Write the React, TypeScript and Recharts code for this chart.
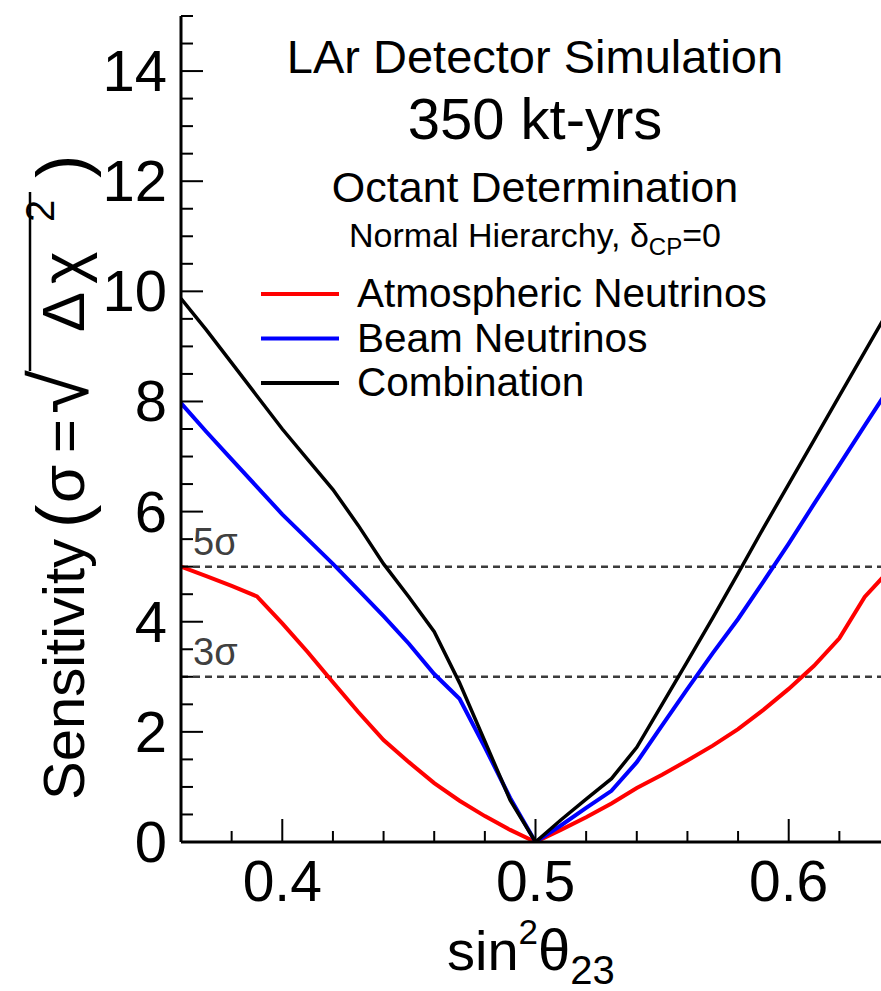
import React from 'react';
import { LineChart, Line, XAxis, YAxis, ReferenceLine, Customized } from 'recharts';

// sin^2(theta_23) grid and the three sensitivity curves
const sin2Theta23 = [
  0.36, 0.37, 0.38, 0.39, 0.4, 0.41, 0.42, 0.43, 0.44, 0.45, 0.46, 0.47, 0.48, 0.49, 0.5,
  0.51, 0.52, 0.53, 0.54, 0.55, 0.56, 0.57, 0.58, 0.59, 0.6, 0.61, 0.62, 0.63, 0.64,
];
const atmospheric = [
  5.0, 4.83, 4.65, 4.46, 3.97, 3.45, 2.9, 2.36, 1.85, 1.45, 1.07, 0.75, 0.47, 0.22, 0,
  0.22, 0.45, 0.7, 0.98, 1.22, 1.48, 1.75, 2.05, 2.4, 2.78, 3.2, 3.7, 4.45, 4.95,
];
const beam = [
  7.97, 7.45, 6.95, 6.45, 5.95, 5.5, 5.05, 4.58, 4.1, 3.6, 3.05, 2.6, 1.72, 0.8, 0,
  0.3, 0.62, 0.93, 1.45, 2.12, 2.78, 3.43, 4.05, 4.73, 5.42, 6.14, 6.85, 7.56, 8.27,
];
const combination = [
  9.87, 9.3, 8.7, 8.1, 7.5, 6.95, 6.4, 5.75, 5.05, 4.45, 3.82, 2.89, 1.83, 0.76, 0,
  0.4, 0.78, 1.15, 1.72, 2.5, 3.28, 4.07, 4.88, 5.7, 6.5, 7.3, 8.1, 8.9, 9.7,
];

// Axis ticks
const xTicks = [0.36, 0.38, 0.4, 0.42, 0.44, 0.46, 0.48, 0.5, 0.52, 0.54, 0.56, 0.58, 0.6, 0.62, 0.64];
const xMajorTicks = [0.4, 0.5, 0.6];
const xTickLabels = ['0.4', '0.5', '0.6'];
const yTicks = [
  0, 0.5, 1, 1.5, 2, 2.5, 3, 3.5, 4, 4.5, 5, 5.5, 6, 6.5, 7, 7.5, 8, 8.5, 9, 9.5, 10,
  10.5, 11, 11.5, 12, 12.5, 13, 13.5, 14, 14.5, 15,
];
const yMajorTicks = [0, 2, 4, 6, 8, 10, 12, 14];
const yTickLabels = ['0', '2', '4', '6', '8', '10', '12', '14'];

// Significance levels
const sigmaLevels = [5, 3];
const sigmaLabels = ['5σ', '3σ'];

// Legend
const seriesKeys = ['atm', 'beam', 'comb'];
const seriesNames = ['Atmospheric Neutrinos', 'Beam Neutrinos', 'Combination'];
const seriesColors = ['#ff0000', '#0000ff', '#000000'];
const seriesWidths = [4, 4, 3.5];

const rows = sin2Theta23.map((x, i) => ({
  x,
  atm: atmospheric[i],
  beam: beam[i],
  comb: combination[i],
}));

const FONT = '"Liberation Sans", Arial, Helvetica, sans-serif';

const findIndex = (list: number[], v: number) => list.findIndex((m) => Math.abs(m - v) < 1e-9);

const BottomTick = (props: any) => {
  const { x, y, payload } = props;
  const idx = findIndex(xMajorTicks, payload.value);
  const major = idx >= 0;
  return (
    <g>
      <line x1={x} x2={x} y1={y} y2={y - (major ? 23 : 11)} stroke="#000" strokeWidth={2} />
      {major && (
        <text x={x} y={y + 59} textAnchor="middle" fontSize={57} fontFamily={FONT} fill="#000">
          {xTickLabels[idx]}
        </text>
      )}
    </g>
  );
};

const TopTick = (props: any) => {
  const { x, y, payload } = props;
  const major = findIndex(xMajorTicks, payload.value) >= 0;
  return <line x1={x} x2={x} y1={y} y2={y + (major ? 18 : 13)} stroke="#000" strokeWidth={2} />;
};

const LeftTick = (props: any) => {
  const { x, y, payload } = props;
  const idx = findIndex(yMajorTicks, payload.value);
  const major = idx >= 0;
  return (
    <g>
      <line x1={x} x2={x + (major ? 22 : 12)} y1={y} y2={y} stroke="#000" strokeWidth={2} />
      {major && (
        <text x={x - 14} y={y + 20} textAnchor="end" fontSize={58} fontFamily={FONT} fill="#000">
          {yTickLabels[idx]}
        </text>
      )}
    </g>
  );
};

const RightTick = (props: any) => {
  const { x, y, payload } = props;
  const major = findIndex(yMajorTicks, payload.value) >= 0;
  return <line x1={x} x2={x - (major ? 22 : 12)} y1={y} y2={y} stroke="#000" strokeWidth={2} />;
};

const Annotations = () => (
  <g fontFamily={FONT} fill="#000">
    <text x={535} y={73} textAnchor="middle" fontSize={47}>LAr Detector Simulation</text>
    <text x={535} y={139} textAnchor="middle" fontSize={58}>350 kt-yrs</text>
    <text x={535} y={202} textAnchor="middle" fontSize={43}>Octant Determination</text>
    <text x={535} y={247} textAnchor="middle" fontSize={34}>
      Normal Hierarchy, δ<tspan fontSize={24} dy={8}>CP</tspan>
      <tspan dy={-8}>=0</tspan>
    </text>

    {seriesNames.map((name, i) => {
      const ly = 294 + i * 44.5;
      return (
        <g key={name}>
          <line x1={261} x2={339} y1={ly} y2={ly} stroke={seriesColors[i]} strokeWidth={4} />
          <text x={357} y={ly + 13} fontSize={40.5}>{name}</text>
        </g>
      );
    })}

    {/* y-axis title, rotated: Sensitivity (σ=√Δχ²) */}
    <g transform="translate(84, 800) rotate(-90)" fontSize={58}>
      <text x={0} y={0}>Sensitivity</text>
      <text x={272} y={2} fontSize={70}>(</text>
      <text x={297} y={0} fontSize={62}>σ</text>
      <text x={347} y={0}>=</text>
      <text x={386} y={4} fontSize={80}>√</text>
      <line x1={429} x2={608} y1={-54} y2={-54} stroke="#000" strokeWidth={2.5} />
      <text x={468} y={0} fontSize={60}>Δ</text>
      <text x={516} y={0} fontSize={62}>χ</text>
      <text x={578} y={-30} fontSize={40}>2</text>
      <text x={622} y={2} fontSize={70}>)</text>
    </g>

    <text x={447} y={970} fontSize={56}>
      sin<tspan fontSize={35} dy={-26}>2</tspan>
      <tspan dy={26} fontSize={58}>θ</tspan>
      <tspan fontSize={40} dy={14}>23</tspan>
    </text>
  </g>
);

export default function App() {
  return (
    <div style={{ position: 'absolute', left: 0, top: 0, width: 881, height: 991, overflow: 'hidden', background: '#fff' }}>
      <LineChart width={900} height={991} data={rows} margin={{ top: 16, right: 10, bottom: 0, left: 0 }}>
        <XAxis
          xAxisId="bottom"
          dataKey="x"
          type="number"
          domain={[0.36, 0.64]}
          allowDataOverflow
          ticks={xTicks}
          interval={0}
          height={149}
          tickSize={0}
          tickMargin={0}
          tickLine={false}
          axisLine={{ stroke: '#000', strokeWidth: 3 }}
          tick={<BottomTick />}
        />
        <XAxis
          xAxisId="top"
          orientation="top"
          dataKey="x"
          type="number"
          domain={[0.36, 0.64]}
          allowDataOverflow
          ticks={xTicks}
          interval={0}
          height={0}
          tickSize={0}
          tickMargin={0}
          tickLine={false}
          axisLine={{ stroke: '#000', strokeWidth: 3 }}
          tick={<TopTick />}
        />
        <YAxis
          yAxisId="left"
          type="number"
          domain={[0, 15]}
          allowDataOverflow
          ticks={yTicks}
          interval={0}
          width={181}
          tickSize={0}
          tickMargin={0}
          tickLine={false}
          axisLine={{ stroke: '#000', strokeWidth: 3 }}
          tick={<LeftTick />}
        />
        <YAxis
          yAxisId="right"
          orientation="right"
          type="number"
          domain={[0, 15]}
          allowDataOverflow
          ticks={yTicks}
          interval={0}
          width={0}
          tickSize={0}
          tickMargin={0}
          tickLine={false}
          axisLine={{ stroke: '#000', strokeWidth: 3 }}
          tick={<RightTick />}
        />

        {sigmaLevels.map((level, i) => (
          <ReferenceLine
            key={level}
            xAxisId="bottom"
            yAxisId="left"
            y={level}
            stroke="#3c3c3c"
            strokeWidth={2.5}
            strokeDasharray="7 5"
            label={{
              value: sigmaLabels[i],
              position: 'insideBottomLeft',
              offset: 12,
              fill: '#404040',
              fontSize: 38,
              fontFamily: FONT,
            }}
          />
        ))}

        {seriesKeys.map((key, i) => (
          <Line
            key={key}
            xAxisId="bottom"
            yAxisId="left"
            type="linear"
            dataKey={key}
            name={seriesNames[i]}
            stroke={seriesColors[i]}
            strokeWidth={seriesWidths[i]}
            dot={false}
            activeDot={false}
            isAnimationActive={false}
          />
        ))}

        <Customized component={<Annotations />} />
      </LineChart>
    </div>
  );
}
